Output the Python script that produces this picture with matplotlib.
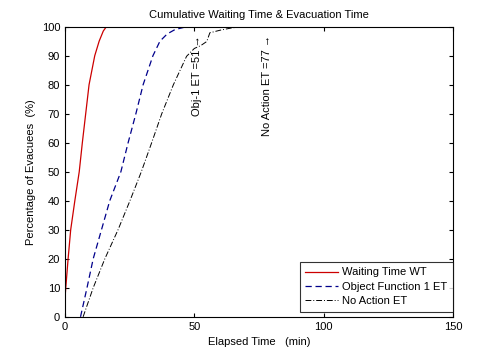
import matplotlib
matplotlib.use('Agg')
import matplotlib.pyplot as plt

plt.rcParams['font.family'] = ['Liberation Sans', 'DejaVu Sans']

# waiting time curve
wt_time = [0, 0.3, 1.2, 2.2, 3.8, 5.5, 6.7, 8.0, 9.3, 11.5, 13.2, 14.8, 16, 17]
wt_pct = [6.5, 10, 20, 30, 40, 50, 60, 70, 80, 90, 95, 98.5, 100, 100]

# objective function 1 evacuation time
obj_time = [6, 8.5, 10.9, 14.1, 17.3, 21.6, 24.4, 27.4, 30.2, 34, 36.7, 39.5, 42.5, 47, 51]
obj_pct = [0, 10, 20, 30, 40, 50, 60, 70, 80, 90, 95, 97.5, 99, 100, 100]

# no action evacuation time
na_time = [7, 10.9, 15.4, 20.5, 25.1, 29.5, 33.5, 37.4, 41.9, 47, 50, 52.5, 54.8, 56, 60, 64, 67.7, 77]
na_pct = [0, 10, 20, 30, 40, 50, 60, 70, 80, 89.8, 92.5, 93.5, 94.9, 97.9, 98.8, 99.5, 100, 100]

fig = plt.figure(figsize=(5, 3.56), dpi=100)
ax = fig.add_axes([0.13, 0.11, 0.776, 0.815])

ax.plot(wt_time, wt_pct, color='#cc0000', lw=0.9, label='Waiting Time WT')
ax.plot(obj_time, obj_pct, color='#00008b', lw=0.9, ls=(0, (5, 3)), label='Object Function 1 ET')
ax.plot(na_time, na_pct, color='k', lw=0.7, ls=(0, (6, 2, 1, 2)), label='No Action ET')

ax.set_xlim(0, 150)
ax.set_ylim(0, 100)
ax.set_xticks([0, 50, 100, 150])
ax.set_yticks(range(0, 101, 10))
ax.tick_params(direction='in', labelsize=8, length=3, top=True, right=True)

ax.set_title('Cumulative Waiting Time & Evacuation Time', fontsize=8)
ax.set_xlabel('Elapsed Time   (min)', fontsize=8)
ax.set_ylabel('Percentage of Evacuees  (%)', fontsize=8)

ax.text(51, 97, 'Obj-1 ET =51 \u2192', rotation=90, ha='center', va='top', fontsize=8)
ax.text(78, 97, 'No Action ET =77 \u2192', rotation=90, ha='center', va='top', fontsize=8)

leg = ax.legend(loc='lower right', bbox_to_anchor=(1, 0.017), fontsize=8, fancybox=False,
                edgecolor='k', borderaxespad=0, handlelength=3.0, handletextpad=0.35,
                labelspacing=0.4, borderpad=0.5)
leg.get_frame().set_linewidth(0.8)

fig.savefig('out.png', dpi=100)
